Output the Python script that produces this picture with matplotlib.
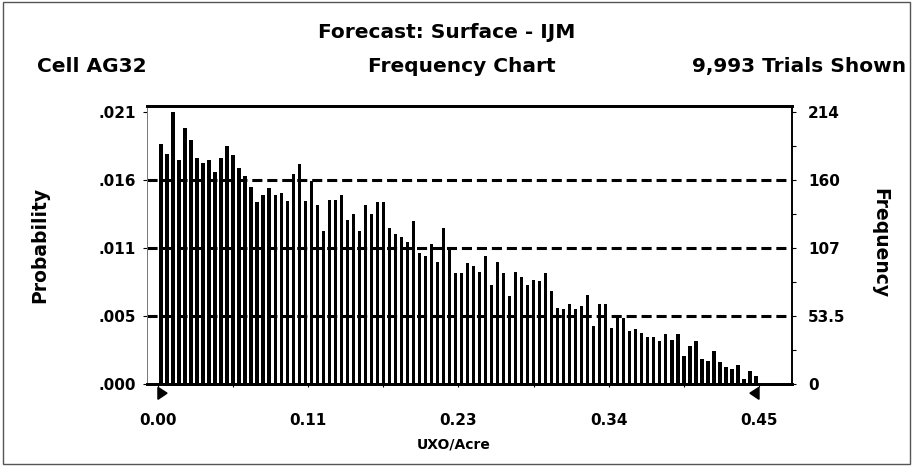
import matplotlib.pyplot as plt
import numpy as np
from matplotlib.patches import Polygon, Rectangle
import matplotlib.transforms as mtransforms

plt.rcParams['font.family'] = 'DejaVu Sans'
plt.rcParams['font.weight'] = 'bold'

# forecast summary
n_trials = 9993
x_lo, x_hi = 0.00, 0.45
x_ticks = [0.0, 0.1125, 0.225, 0.3375, 0.45]
x_tick_labels = ['0.00', '0.11', '0.23', '0.34', '0.45']
freq_ticks = [0, 53.5, 107, 160.5, 214]

# frequency per cell (100 cells between x_lo and x_hi)
counts = [
    189, 181, 214, 176, 201, 192, 178, 174, 176, 167,
    178, 187, 180, 170, 164, 155, 143, 149, 154, 149,
    150, 144, 165, 173, 144, 160, 141, 120, 145, 145,
    149, 129, 134, 120, 141, 134, 143, 143, 123, 118,
    116, 112, 128, 103, 101, 110, 96, 123, 107, 87,
    87, 95, 93, 88, 101, 78, 96, 87, 69, 88,
    84, 78, 82, 81, 87, 73, 60, 59, 63, 59,
    61, 70, 46, 63, 63, 44, 53, 52, 42, 43,
    40, 37, 37, 34, 39, 35, 39, 22, 30, 34,
    20, 18, 26, 17, 13, 12, 15, 4, 10, 6,
]

W, H = 913, 466
fig = plt.figure(figsize=(W / 100, H / 100), dpi=100)
ax = fig.add_axes([147 / W, 1 - 384 / H, (792 - 147) / W, (384 - 106) / H])
ax2 = ax.twinx()  # frequency scale on the right

n = len(counts)
cell = (x_hi - x_lo) / n
centers = x_lo + (np.arange(n) + 0.5) * cell
ax.bar(centers, counts, width=cell * 0.55, color='black', zorder=2)

ax.set_xlim(x_lo - 0.0082, x_hi + 0.0247)
ax.set_ylim(0, 218.7)
ax2.set_ylim(ax.get_ylim())

# dashed reference lines
for t in freq_ticks[1:-1]:
    ax.axhline(t, color='black', lw=2.2, linestyle=(0, (3.3, 1.6)), zorder=3)

# x axis
ax.set_xticks(x_ticks)
ax.set_xticklabels(x_tick_labels)
ax.set_xticks(np.arange(0, 0.47, 0.05625), minor=True)
ax.tick_params(axis='x', which='both', length=2, width=0.8, pad=19, labelsize=11)

# probability on the left
ax.set_yticks(freq_ticks)
ax.set_yticklabels([('%.3f' % (t / n_trials)).lstrip('0') for t in freq_ticks])
ax.tick_params(axis='y', length=3, width=0.8, pad=5, labelsize=11)

# frequency on the right
ax2.set_yticks(freq_ticks)
ax2.set_yticklabels(['%.3g' % t for t in freq_ticks])
ax2.set_yticks(np.arange(0, 215, 26.75), minor=True)
ax2.tick_params(axis='y', which='both', length=3, width=0.8, pad=8.5, labelsize=11)

for a in (ax, ax2):
    a.spines['bottom'].set_linewidth(2)
    a.spines['top'].set_linewidth(2)
    a.spines['right'].set_linewidth(1.2)
    a.spines['left'].set_linewidth(0.6)
    a.spines['left'].set_color('#777777')

# range markers under the axis
tr = mtransforms.blended_transform_factory(ax.transData, ax.transAxes)
tw = 0.0068
ax.add_patch(Polygon([[x_lo, -0.012], [x_lo, -0.055], [x_lo + tw, -0.033]],
                     closed=True, color='black', transform=tr, clip_on=False))
ax.add_patch(Polygon([[x_hi, -0.012], [x_hi, -0.055], [x_hi - tw, -0.033]],
                     closed=True, color='black', transform=tr, clip_on=False))

# texts
fig.text(447 / W, 1 - 38 / H, 'Forecast: Surface - IJM', ha='center', va='baseline', fontsize=14.5)
fig.text(37 / W, 1 - 72 / H, 'Cell AG32', ha='left', va='baseline', fontsize=14.5)
fig.text(462 / W, 1 - 72 / H, 'Frequency Chart', ha='center', va='baseline', fontsize=14.5)
fig.text(906 / W, 1 - 72 / H, '{:,} Trials Shown'.format(n_trials), ha='right', va='baseline', fontsize=14.5)
fig.text(454 / W, 1 - 445 / H, 'UXO/Acre', ha='center', va='center', fontsize=10)
fig.text(40 / W, 1 - 245 / H, 'Probability', ha='center', va='center', rotation=90, fontsize=13.5)
fig.text(880 / W, 1 - 243 / H, 'Frequency', ha='center', va='center', rotation=-90, fontsize=13.5)

fig.patches.append(Rectangle((0.003, 0.004), 0.994, 0.992, transform=fig.transFigure,
                             fill=False, edgecolor='#555555', lw=1))

fig.savefig('out.png', dpi=100)
